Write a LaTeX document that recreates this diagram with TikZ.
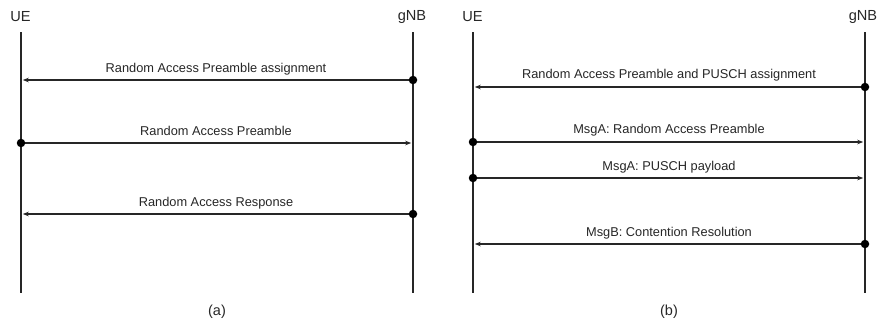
\documentclass[tikz,border=0pt]{standalone}
\usepackage{fontspec}
\setmainfont{Liberation Sans}
\usetikzlibrary{arrows.meta}
\definecolor{ink}{HTML}{262626}
\begin{document}
\begin{tikzpicture}[x=1pt,y=-1pt,
  lifeline/.style={draw=ink,line width=2pt},
  msg/.style={draw=ink,line width=1.3pt,-{Stealth[length=6pt,width=4.5pt]},shorten >=1.8pt},
  dot/.style={circle,fill=black,inner sep=0pt,minimum size=8.5pt},
  msglabel/.style={font=\fontsize{12.8}{14}\selectfont,text=ink,inner sep=0pt,anchor=base},
  entity/.style={font=\fontsize{14.6}{16}\selectfont,text=ink,inner sep=0pt},
  caption/.style={font=\fontsize{14.5}{16}\selectfont,text=ink,inner sep=0pt}]
\useasboundingbox (0,0) rectangle (881,325);
% ---------- panel (a) ----------
\node[entity] (ueA) at (20.5,17) {UE};
\node[entity] (gnbA) at (412,17) {gNB};
\coordinate (ueAt) at (21,32); \coordinate (ueAb) at (21,293);
\coordinate (gnbAt) at (413,32); \coordinate (gnbAb) at (413,293);
\draw[lifeline] (ueAt) -- (ueAb);
\draw[lifeline] (gnbAt) -- (gnbAb);
\coordinate (a1L) at (21,80); \coordinate (a1R) at (413,80);
\coordinate (a2L) at (21,143); \coordinate (a2R) at (413,143);
\coordinate (a3L) at (21,214); \coordinate (a3R) at (413,214);
\draw[msg] (a1R) -- (a1L);
\draw[msg] (a2L) -- (a2R);
\draw[msg] (a3R) -- (a3L);
\node[dot] (a1d) at (a1R) {};
\node[dot] (a2d) at (a2L) {};
\node[dot] (a3d) at (a3R) {};
\node[msglabel] (a1t) at (216,72.5) {Random Access Preamble assignment};
\node[msglabel] (a2t) at (216,135.5) {Random Access Preamble};
\node[msglabel] (a3t) at (216,206.5) {Random Access Response};
\node[caption] (capA) at (217,312) {(a)};
% ---------- panel (b) ----------
\node[entity] (ueB) at (472.5,17) {UE};
\node[entity] (gnbB) at (863,17) {gNB};
\coordinate (ueBt) at (473,32); \coordinate (ueBb) at (473,293);
\coordinate (gnbBt) at (865,32); \coordinate (gnbBb) at (865,293);
\draw[lifeline] (ueBt) -- (ueBb);
\draw[lifeline] (gnbBt) -- (gnbBb);
\coordinate (b1L) at (473,87); \coordinate (b1R) at (865,87);
\coordinate (b2L) at (473,142); \coordinate (b2R) at (865,142);
\coordinate (b3L) at (473,178); \coordinate (b3R) at (865,178);
\coordinate (b4L) at (473,244); \coordinate (b4R) at (865,244);
\draw[msg] (b1R) -- (b1L);
\draw[msg] (b2L) -- (b2R);
\draw[msg] (b3L) -- (b3R);
\draw[msg] (b4R) -- (b4L);
\node[dot] (b1d) at (b1R) {};
\node[dot] (b2d) at (b2L) {};
\node[dot] (b3d) at (b3L) {};
\node[dot] (b4d) at (b4R) {};
\node[msglabel] (b1t) at (669,78.5) {Random Access Preamble and PUSCH assignment};
\node[msglabel] (b2t) at (669,133.5) {MsgA: Random Access Preamble};
\node[msglabel] (b3t) at (669,170.5) {MsgA: PUSCH payload};
\node[msglabel] (b4t) at (669,236.5) {MsgB: Contention Resolution};
\node[caption] (capB) at (669,312) {(b)};
\end{tikzpicture}
\end{document}
